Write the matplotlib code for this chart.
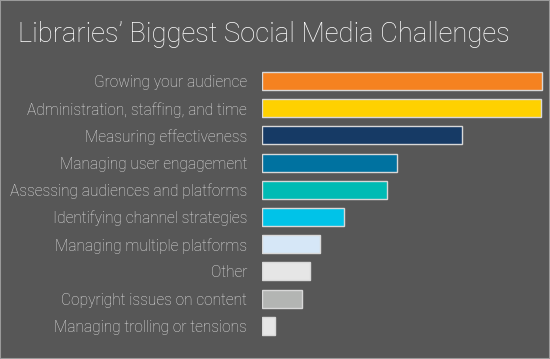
import matplotlib
matplotlib.use("Agg")
import matplotlib.pyplot as plt
from matplotlib.patches import Rectangle

categories = [
    "Growing your audience",
    "Administration, staffing, and time",
    "Measuring effectiveness",
    "Managing user engagement",
    "Assessing audiences and platforms",
    "Identifying channel strategies",
    "Managing multiple platforms",
    "Other",
    "Copyright issues on content",
    "Managing trolling or tensions",
]
values = [56.0, 55.8, 40.0, 27.0, 25.0, 16.4, 11.6, 9.6, 8.0, 2.6]
colors = ["#F58220", "#FFD100", "#163A65", "#0072A0", "#00BBB4",
          "#00C3E8", "#D6E7F7", "#E6E6E6", "#B3B5B3", "#E6E6E6"]
title = "Libraries\u2019 Biggest Social Media Challenges"

W, H = 550, 359
bg = "#575757"
fig = plt.figure(figsize=(W / 100, H / 100), dpi=100, facecolor=bg)
fig.patches.append(Rectangle((0, 0), 1, 1, transform=fig.transFigure,
                             fill=False, edgecolor="#9a9a9a", linewidth=1.5))

px_per_unit = 5.0
xmax = 57.0
left = 261.7 / W
width = xmax * px_per_unit / W
spacing = 27.2
top_px = 81 - spacing / 2
height_px = spacing * len(categories)
bottom = (H - (top_px + height_px)) / H
ax = fig.add_axes([left, bottom, width, height_px / H])
ax.set_facecolor("none")

ypos = list(range(len(categories)))
ax.barh(ypos, values, height=0.66, color=colors, edgecolor="#d8d8d8", linewidth=1.0)
ax.set_xlim(0, xmax)
ax.set_ylim(len(categories) - 0.5, -0.5)
ax.set_yticks(ypos)
ax.set_yticklabels(categories, fontsize=11.2, color="#e2e2e2",
                   family=["Roboto", "DejaVu Sans"], fontweight="light")
for lbl in ax.get_yticklabels():
    lbl.set_y(lbl.get_position()[1])
ax.tick_params(axis="y", length=0, pad=10.5)
ax.set_xticks([])
for s in ax.spines.values():
    s.set_visible(False)

fig.text(0.033, 1 - 35 / H, title, fontsize=19.7, color="white",
         family=["Roboto", "DejaVu Sans"], fontweight="light",
         ha="left", va="center")

fig.savefig("out.png", dpi=100, facecolor=bg)
